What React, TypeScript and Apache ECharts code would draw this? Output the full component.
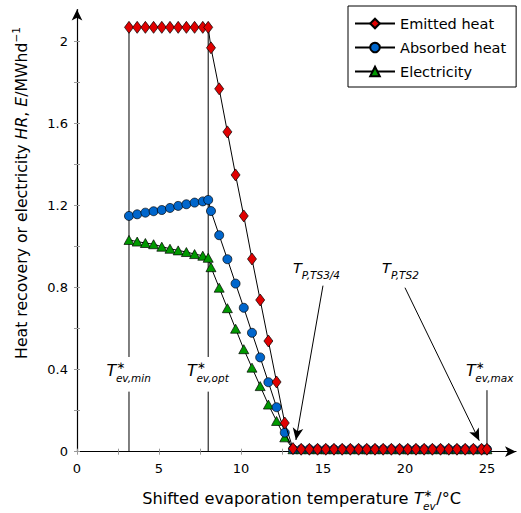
import React, { useEffect, useRef } from "react";
import * as echarts from "echarts";

// ---------- data ----------
const temperatures = [
  3.17, 3.67, 4.17, 4.67, 5.17, 5.67, 6.17, 6.67, 7.17, 7.67, 8.0,
  8.17, 8.67, 9.17, 9.67, 10.17, 10.67, 11.17, 11.67, 12.17, 12.67,
  13.17, 13.67, 14.17, 14.67, 15.17, 15.67, 16.17, 16.67, 17.17, 17.67,
  18.17, 18.67, 19.17, 19.67, 20.17, 20.67, 21.17, 21.67, 22.17, 22.67,
  23.17, 23.67, 24.17, 24.67, 25.0,
];
const emittedHeat = [
  2.07, 2.07, 2.07, 2.07, 2.07, 2.07, 2.07, 2.07, 2.07, 2.07, 2.07,
  1.97, 1.77, 1.56, 1.35, 1.15, 0.94, 0.74, 0.54, 0.34, 0.14,
  0.015, 0.012, 0.012, 0.012, 0.012, 0.012, 0.012, 0.012, 0.012, 0.012,
  0.012, 0.012, 0.012, 0.012, 0.012, 0.012, 0.012, 0.012, 0.012, 0.012,
  0.012, 0.012, 0.012, 0.012, 0.012,
];
const absorbedHeat = [
  1.15, 1.158, 1.166, 1.173, 1.179, 1.189, 1.199, 1.207, 1.215, 1.221, 1.228,
  1.174, 1.056, 0.939, 0.82, 0.702, 0.58, 0.46, 0.339, 0.217, 0.093,
  0.012, 0.012, 0.012, 0.012, 0.012, 0.012, 0.012, 0.012, 0.012, 0.012,
  0.012, 0.012, 0.012, 0.012, 0.012, 0.012, 0.012, 0.012, 0.012, 0.012,
  0.012, 0.012, 0.012, 0.012, 0.012,
];
const electricity = [
  1.033, 1.025, 1.018, 1.012, 1.0, 0.99, 0.982, 0.974, 0.964, 0.956, 0.946,
  0.9, 0.8, 0.7, 0.6, 0.5, 0.41, 0.32, 0.23, 0.15, 0.07,
  0.012, 0.012, 0.012, 0.012, 0.012, 0.012, 0.012, 0.012, 0.012, 0.012,
  0.012, 0.012, 0.012, 0.012, 0.012, 0.012, 0.012, 0.012, 0.012, 0.012,
  0.012, 0.012, 0.012, 0.012, 0.012,
];
const seriesNames = ["Emitted heat", "Absorbed heat", "Electricity"];

const xTickValues = [0, 2.5, 5, 7.5, 10, 12.5, 15, 17.5, 20, 22.5, 25];
const xLabelValues = [0, 5, 10, 15, 20, 25];
const yTickValues = [0, 0.2, 0.4, 0.6, 0.8, 1.0, 1.2, 1.4, 1.6, 1.8, 2.0];
const yLabelValues = [0, 0.4, 0.8, 1.2, 1.6, 2];

// characteristic temperatures (vertical marker lines)
const markerTemps = [3.17, 8.0, 25.0];
const markerTops = [2.07, 2.07, 0.3];
const markerGap = [0.293, 0.462];

// pinch temperatures pointed at by arrows
const pinchArrowStart = [[15.0, 0.81], [20.0, 0.8]];
const pinchArrowEnd = [[13.35, 0.057], [24.53, 0.054]];

// ---------- helpers ----------
const FONT = '"DejaVu Sans", "Noto Sans", sans-serif';
const XMAX = 26.77;
const YMAX = 2.157;

let measureCtx: CanvasRenderingContext2D | null = null;
function measure(t: string, size: number, italic?: boolean) {
  if (!measureCtx) measureCtx = document.createElement("canvas").getContext("2d");
  measureCtx!.font = `${italic ? "italic " : ""}${size}px "DejaVu Sans"`;
  return measureCtx!.measureText(t).width;
}

type Seg = {
  t?: string;
  sup?: string;
  sub?: string;
  size: number;
  italic?: boolean;
  supDy?: number;
  subDy?: number;
};

function textEl(x: number, y: number, t: string, size: number, italic?: boolean) {
  return {
    type: "text",
    x,
    y,
    silent: true,
    style: {
      text: t,
      fontSize: size,
      fontFamily: FONT,
      fontStyle: italic ? "italic" : "normal",
      fill: "#000",
      align: "left",
      verticalAlign: "middle",
    },
  };
}

function mathGroup(x: number, y: number, segs: Seg[], align: "left" | "center", rotation = 0) {
  const children: any[] = [];
  let cx = 0;
  for (const s of segs) {
    if (s.t !== undefined) {
      children.push(textEl(cx, 0, s.t, s.size, s.italic));
      cx += measure(s.t, s.size, s.italic);
    } else {
      let w = 0;
      if (s.sup) {
        children.push(textEl(cx, s.supDy ?? -5, s.sup, s.size, s.italic));
        w = Math.max(w, measure(s.sup, s.size, s.italic));
      }
      if (s.sub) {
        children.push(textEl(cx + (s.sup ? -0.5 : 0), s.subDy ?? 6, s.sub, s.size, s.italic));
        w = Math.max(w, measure(s.sub, s.size, s.italic));
      }
      cx += w;
    }
  }
  const shift = align === "center" ? -cx / 2 : 0;
  children.forEach((c) => (c.x += shift));
  return { type: "group", x, y, rotation, children };
}

export default function App() {
  const ref = useRef<HTMLDivElement>(null);

  useEffect(() => {
    const chart = echarts.init(ref.current!, null, { renderer: "svg" });
    const pairs = (vals: number[]) => temperatures.map((t, i) => [t, vals[i]]);
    const blackLine = { color: "#000", width: 1 };

    const markerSeries: any[] = [];
    markerTemps.forEach((t, i) => {
      const top = markerTops[i];
      const segments =
        top > markerGap[1]
          ? [
              [[t, 0], [t, markerGap[0]]],
              [[t, markerGap[1]], [t, top]],
            ]
          : [[[t, 0], [t, top]]];
      segments.forEach((seg) =>
        markerSeries.push({
          type: "line",
          data: seg,
          symbol: "none",
          silent: true,
          z: 1,
          lineStyle: blackLine,
          emphasis: { disabled: true },
        })
      );
    });
    markerSeries[0].markLine = {
      silent: true,
      symbol: ["none", "arrow"],
      symbolSize: [8, 12],
      label: { show: false },
      emphasis: { disabled: true },
      lineStyle: { color: "#000", width: 1, type: "solid" },
      data: pinchArrowStart.map((s, i) => [{ coord: s }, { coord: pinchArrowEnd[i] }]),
    };

    const dataSeries = (name: string, vals: number[], symbol: string, size: any, color: string, z: number) => ({
      name,
      type: "line",
      data: pairs(vals),
      symbol,
      symbolSize: size,
      z,
      lineStyle: blackLine,
      itemStyle: { color, borderColor: "#000", borderWidth: 0.7 },
      emphasis: { disabled: true },
    });

    const tickStyle = { color: "#999", width: 1 };

    chart.setOption({
      animation: false,
      grid: { left: 77, right: 5, top: 9.5, bottom: 61.3, containLabel: false, outerBoundsMode: "none" },
      legend: {
        data: seriesNames,
        orient: "vertical",
        left: 348,
        top: 6,
        padding: [10, 10, 8, 6],
        itemWidth: 40,
        itemHeight: 12,
        itemGap: 9,
        borderColor: "#000",
        borderWidth: 1,
        borderRadius: 0,
        backgroundColor: "#fff",
        textStyle: { fontFamily: FONT, fontSize: 14.5, color: "#000" },
        selectedMode: false,
      },
      xAxis: [
        {
          type: "value",
          min: 0,
          max: XMAX,
          position: "bottom",
          axisLine: { show: true, onZero: false, symbol: ["none", "arrow"], symbolSize: [8, 11], lineStyle: { color: "#000", width: 1.2 } },
          axisTick: { show: true, customValues: xTickValues, length: 3, lineStyle: tickStyle },
          axisLabel: { customValues: xLabelValues, margin: 10, fontFamily: FONT, fontSize: 13, color: "#000" },
          splitLine: { show: false },
        },
        {
          type: "value",
          min: 0,
          max: XMAX,
          position: "bottom",
          axisLine: { show: false },
          axisTick: { show: true, inside: true, customValues: xTickValues, length: 3, lineStyle: tickStyle },
          axisLabel: { show: false },
          splitLine: { show: false },
        },
      ],
      yAxis: [
        {
          type: "value",
          min: 0,
          max: YMAX,
          position: "left",
          axisLine: { show: true, onZero: false, symbol: ["none", "arrow"], symbolSize: [8, 11], lineStyle: { color: "#000", width: 1.2 } },
          axisTick: { show: true, customValues: yTickValues, length: 3, lineStyle: tickStyle },
          axisLabel: { customValues: yLabelValues, margin: 9, fontFamily: FONT, fontSize: 13, color: "#000" },
          splitLine: { show: false },
        },
        {
          type: "value",
          min: 0,
          max: YMAX,
          position: "left",
          axisLine: { show: false },
          axisTick: { show: true, inside: true, customValues: yTickValues, length: 3, lineStyle: tickStyle },
          axisLabel: { show: false },
          splitLine: { show: false },
        },
      ],
      series: [
        ...markerSeries,
        dataSeries(seriesNames[2], electricity, "triangle", [10, 9], "#009900", 3),
        dataSeries(seriesNames[1], absorbedHeat, "circle", 9, "#0066cc", 4),
        dataSeries(seriesNames[0], emittedHeat, "diamond", [9, 12], "#e00000", 5),
      ],
    });

    const px = (x: number, y: number) => chart.convertToPixel({ xAxisIndex: 0, yAxisIndex: 0 }, [x, y]) as number[];

    const evLabel = (sub: string): Seg[] => [
      { t: "T", size: 16, italic: true },
      { sup: "∗", sub, size: 10.5, italic: true, supDy: -6, subDy: 7.5 },
    ];
    const pinchLabel = (sub: string): Seg[] => [
      { t: "T", size: 14.5, italic: true },
      { sub, size: 10.5, italic: true, subDy: 7 },
    ];

    const pMin = px(markerTemps[0], 0.394);
    const pOpt = px(markerTemps[1], 0.394);
    const pMax = px(markerTemps[2], 0.394);
    const pTS34 = px(13.17, 0.896);
    const pTS2 = px(18.6, 0.896);

    chart.setOption({
      graphic: [
        mathGroup(pMin[0], pMin[1], evLabel("ev,min"), "center"),
        mathGroup(pOpt[0], pOpt[1], evLabel("ev,opt"), "center"),
        mathGroup(pMax[0] + 3, pMax[1], evLabel("ev,max"), "center"),
        mathGroup(pTS34[0], pTS34[1], pinchLabel("P,TS3/4"), "left"),
        mathGroup(pTS2[0], pTS2[1], pinchLabel("P,TS2"), "left"),
        mathGroup(301.7, 498.5, [
          { t: "Shifted evaporation temperature ", size: 16.2 },
          { t: "T", size: 16.2, italic: true },
          { sup: "∗", sub: "ev", size: 10.5, italic: true, supDy: -6, subDy: 7.5 },
          { t: "/°C", size: 16.2 },
        ], "center"),
        mathGroup(21.5, 193, [
          { t: "Heat recovery or electricity ", size: 15.7 },
          { t: "HR", size: 15.7, italic: true },
          { t: ", ", size: 15.7 },
          { t: "E", size: 15.7, italic: true },
          { t: "/MWhd", size: 15.7 },
          { sup: "−1", size: 10.5, supDy: -6 },
        ], "center", Math.PI / 2),
      ],
    });

    return () => chart.dispose();
  }, []);

  return <div ref={ref} style={{ position: "absolute", left: 0, top: 0, width: 521, height: 513 }} />;
}
